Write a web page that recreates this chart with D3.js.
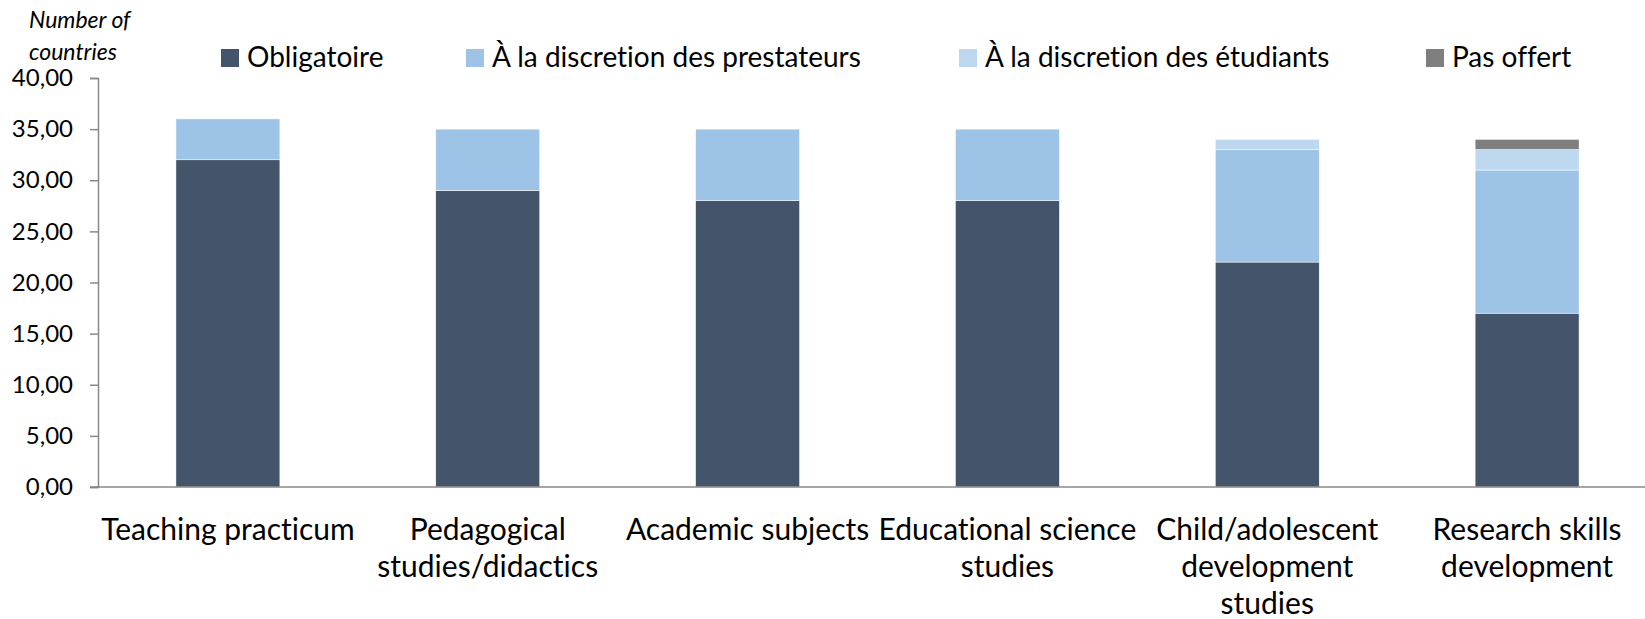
<!DOCTYPE html>
<html>
<head>
<meta charset="utf-8">
<script src="https://cdn.jsdelivr.net/npm/d3@7"></script>
<style>
  body { margin: 0; background: #fff; }
  text { font-family: Lato, "Open Sans", sans-serif; fill: #000; font-variant-ligatures: none; }
</style>
</head>
<body>
<div id="chart"></div>
<script>
// chart size
var width = 1645;
var height = 619;

// data
var categories = [
  ["Teaching practicum"],
  ["Pedagogical", "studies/didactics"],
  ["Academic subjects"],
  ["Educational science", "studies"],
  ["Child/adolescent", "development", "studies"],
  ["Research skills", "development"]
];
var obligatoire = [32, 29, 28, 28, 22, 17];
var prestataires = [4, 6, 7, 7, 11, 14];
var etudiants = [0, 0, 0, 0, 1, 2];
var pasOffert = [0, 0, 0, 0, 0, 1];
var seriesNames = ["Obligatoire", "À la discretion des prestateurs", "À la discretion des étudiants", "Pas offert"];
var seriesColors = ["#44546A", "#9DC3E6", "#BDD7EE", "#7F7F7F"];
var yTicks = [0, 5, 10, 15, 20, 25, 30, 35, 40];

var svg = d3.select("#chart")
  .append("svg")
  .attr("width", width)
  .attr("height", height);

// plot area
var plotLeft = 98, plotRight = 1657, plotTop = 78, plotBottom = 487;

var x = d3.scaleBand()
  .domain(d3.range(categories.length))
  .range([plotLeft, plotRight])
  .paddingInner(0.6)
  .paddingOuter(0.3);

var y = d3.scaleLinear()
  .domain([0, 40])
  .range([plotBottom, plotTop]);

// build rows for the stack
var rows = categories.map(function(c, i) {
  return { i: i, s0: obligatoire[i], s1: prestataires[i], s2: etudiants[i], s3: pasOffert[i] };
});
var stack = d3.stack().keys(["s0", "s1", "s2", "s3"]);
var layers = stack(rows);

svg.append("g")
  .selectAll("g")
  .data(layers)
  .enter()
  .append("g")
  .attr("fill", function(d, i) { return seriesColors[i]; })
  .selectAll("rect")
  .data(function(d) { return d.filter(function(p) { return p[1] > p[0]; }); })
  .enter()
  .append("rect")
  .attr("x", function(d) { return x(d.data.i); })
  .attr("width", x.bandwidth())
  .attr("y", function(d) { return y(d[1]); })
  .attr("height", function(d) { return y(d[0]) - y(d[1]); })
  .attr("stroke", "#fff")
  .attr("stroke-width", 0.5);

// y axis
var yAxis = d3.axisLeft(y)
  .tickValues(yTicks)
  .tickSize(8)
  .tickPadding(17)
  .tickFormat(function(d) { return d3.format(".2f")(d).replace(".", ","); });

var yg = svg.append("g")
  .attr("transform", "translate(" + plotLeft + ",0)")
  .call(yAxis);
yg.select(".domain").attr("stroke", "#898989").attr("stroke-width", 1.5);
yg.selectAll(".tick line").attr("stroke", "#898989").attr("stroke-width", 1.5);
yg.selectAll(".tick text")
  .style("font-size", "24px")
  .style("font-family", "Lato, sans-serif")
  .attr("fill", "#000");

// x axis baseline
svg.append("line")
  .attr("x1", plotLeft - 8)
  .attr("x2", width)
  .attr("y1", y(0))
  .attr("y2", y(0))
  .attr("stroke", "#898989")
  .attr("stroke-width", 1.5);

// category labels, wrapped over lines
svg.append("g")
  .selectAll("text")
  .data(categories)
  .enter()
  .append("text")
  .attr("text-anchor", "middle")
  .style("font-size", "30px")
  .attr("x", function(d, i) { return x(i) + x.bandwidth() / 2; })
  .attr("y", 540)
  .each(function(d) {
    var t = d3.select(this);
    d.forEach(function(line, k) {
      t.append("tspan")
        .attr("x", t.attr("x"))
        .attr("dy", k === 0 ? 0 : 37)
        .text(line);
    });
  });

// axis title
var title = svg.append("text")
  .attr("x", 29)
  .attr("y", 28)
  .style("font-size", "23px")
  .style("font-style", "italic");
title.append("tspan").attr("x", 29).text("Number of");
title.append("tspan").attr("x", 29).attr("dy", 32).text("countries");

// legend
var legendX = [221, 466, 959, 1426];
var legend = svg.append("g")
  .selectAll("g")
  .data(seriesNames)
  .enter()
  .append("g")
  .attr("transform", function(d, i) { return "translate(" + legendX[i] + ",49)"; });

legend.append("rect")
  .attr("width", 18)
  .attr("height", 18)
  .attr("fill", function(d, i) { return seriesColors[i]; });

legend.append("text")
  .attr("x", 26)
  .attr("y", 18)
  .style("font-size", "28px")
  .text(function(d) { return d; });
</script>
</body>
</html>
